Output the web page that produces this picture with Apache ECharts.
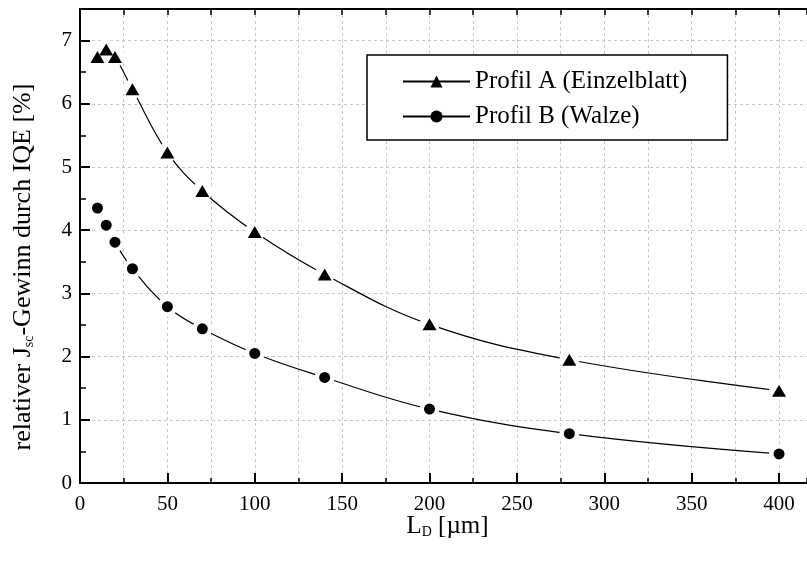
<!DOCTYPE html>
<html>
<head>
<meta charset="utf-8">
<script src="https://cdn.jsdelivr.net/npm/echarts@6/dist/echarts.min.js"></script>
<style>
  html, body { margin: 0; padding: 0; background: #fff; }
  #chart { width: 807px; height: 561px; }
</style>
</head>
<body>
<div id="chart"></div>
<script>
// Diffusion length L_D in µm
const diffusionLength = [10, 15, 20, 30, 50, 70, 100, 140, 200, 280, 400];
// Relative J_sc gain through IQE in %
const gainProfileA = [6.74, 6.86, 6.74, 6.23, 5.23, 4.62, 3.97, 3.30, 2.51, 1.95, 1.46];
const gainProfileB = [4.35, 4.08, 3.81, 3.39, 2.79, 2.44, 2.05, 1.67, 1.17, 0.78, 0.46];
const seriesNames = ['Profil A (Einzelblatt)', 'Profil B (Walze)'];
const xTickLabels = [0, 50, 100, 150, 200, 250, 300, 350, 400];
const yTickLabels = [0, 1, 2, 3, 4, 5, 6, 7];

const FONT = 'Liberation Serif';
const pairs = ys => diffusionLength.map((x, i) => [x, ys[i]]);

const X_MAX = 416;
const Y_MAX = 7.5;

const chart = echarts.init(document.getElementById('chart'), null, { renderer: 'canvas' });

const gridLine = { show: true, lineStyle: { color: '#c8c8c8', width: 1, type: [3, 3] } };

const option = {
  animation: false,
  backgroundColor: '#fff',
  grid: { left: 80, right: 0, top: 9, bottom: 78, containLabel: false },
  legend: {
    data: seriesNames,
    orient: 'vertical',
    left: 367,
    top: 55,
    itemWidth: 67,
    itemHeight: 15,
    itemGap: 10,
    padding: [14, 40, 11, 35],
    borderColor: '#000',
    borderWidth: 1.5,
    backgroundColor: '#fff',
    textStyle: { fontFamily: FONT, fontSize: 25, color: '#000' }
  },
  xAxis: [
    {
      // minor ticks every 25 with vertical grid lines
      type: 'value', min: 0, max: X_MAX, interval: 25, position: 'bottom',
      axisLine: { show: true, onZero: false, lineStyle: { color: '#000', width: 2 } },
      axisTick: { show: true, inside: true, length: 5, lineStyle: { color: '#000', width: 1.5 } },
      axisLabel: { show: false },
      splitLine: gridLine
    },
    {
      // labelled major ticks every 50
      type: 'value', min: 0, max: X_MAX, interval: 50, position: 'bottom',
      axisLine: { show: false, onZero: false },
      axisTick: { show: true, inside: true, length: 10, lineStyle: { color: '#000', width: 2 } },
      axisLabel: {
        show: true, margin: 11, showMaxLabel: false,
        fontFamily: FONT, fontSize: 21, color: '#000',
        formatter: v => (xTickLabels.includes(v) ? String(v) : '')
      },
      splitLine: { show: false },
      name: '{m|L}{s|D}{m| [µm]}',
      nameLocation: 'middle',
      nameGap: 22,
      nameMoveOverlap: false,
      nameTextStyle: {
        color: '#000', fontFamily: FONT, fontSize: 25,
        padding: [0, 0, 0, 8],
        rich: {
          m: { fontFamily: FONT, fontSize: 25, color: '#000', lineHeight: 34, verticalAlign: 'bottom' },
          s: { fontFamily: FONT, fontSize: 14, color: '#000', lineHeight: 14, verticalAlign: 'bottom' }
        }
      }
    },
    {
      // top frame with ticks
      type: 'value', min: 0, max: X_MAX, interval: 25, position: 'top',
      axisLine: { show: true, onZero: false, lineStyle: { color: '#000', width: 2 } },
      axisTick: { show: true, inside: true, length: 6, lineStyle: { color: '#000', width: 1.5 } },
      axisLabel: { show: false },
      splitLine: { show: false }
    }
  ],
  yAxis: [
    {
      // minor ticks every 0.5
      type: 'value', min: 0, max: Y_MAX, interval: 0.5, position: 'left',
      axisLine: { show: true, onZero: false, lineStyle: { color: '#000', width: 2 } },
      axisTick: { show: true, inside: true, length: 6, lineStyle: { color: '#000', width: 1.5 } },
      axisLabel: { show: false },
      splitLine: { show: false }
    },
    {
      // labelled major ticks every 1 with horizontal grid lines
      type: 'value', min: 0, max: Y_MAX, interval: 1, position: 'left',
      axisLine: { show: false, onZero: false },
      axisTick: { show: true, inside: true, length: 10, lineStyle: { color: '#000', width: 2 } },
      axisLabel: {
        show: true, margin: 8, showMaxLabel: false,
        fontFamily: FONT, fontSize: 21, color: '#000',
        formatter: v => (yTickLabels.includes(v) ? String(v) : '')
      },
      splitLine: gridLine,
      name: '{m|relativer J}{s|sc}{m|-Gewinn durch IQE [%]}',
      nameLocation: 'middle',
      nameRotate: 90,
      nameGap: 44,
      nameTextStyle: {
        color: '#000', fontFamily: FONT, fontSize: 26,
        padding: [0, 42, 0, 0],
        rich: {
          m: { fontFamily: FONT, fontSize: 26, color: '#000', lineHeight: 34, verticalAlign: 'bottom' },
          s: { fontFamily: FONT, fontSize: 14, color: '#000', lineHeight: 14, verticalAlign: 'bottom' }
        }
      }
    }
  ],
  series: []
};

// Each profile: a smooth connecting curve, white halos that open a gap in the
// curve around every point, and the solid markers on top.
const profiles = [
  { name: seriesNames[0], data: gainProfileA, symbol: 'triangle', size: [14, 12] },
  { name: seriesNames[1], data: gainProfileB, symbol: 'circle', size: 11 }
];

profiles.forEach(p => {
  option.series.push({
    name: p.name,
    type: 'line',
    xAxisIndex: 0, yAxisIndex: 0,
    data: pairs(p.data),
    smooth: 0.4,
    symbol: p.symbol,
    symbolSize: p.size,
    showSymbol: true,
    lineStyle: { color: '#000', width: 1.2 },
    itemStyle: { color: '#000', opacity: 1 },
    z: 2
  });
  option.series.push({
    type: 'scatter',
    xAxisIndex: 0, yAxisIndex: 0,
    data: pairs(p.data),
    symbol: 'circle',
    symbolSize: 20,
    itemStyle: { color: '#fff', opacity: 1 },
    silent: true,
    z: 3
  });
  option.series.push({
    type: 'scatter',
    xAxisIndex: 0, yAxisIndex: 0,
    data: pairs(p.data),
    symbol: p.symbol,
    symbolSize: p.size,
    itemStyle: { color: '#000', opacity: 1 },
    silent: true,
    z: 4
  });
});

chart.setOption(option);
</script>
</body>
</html>
